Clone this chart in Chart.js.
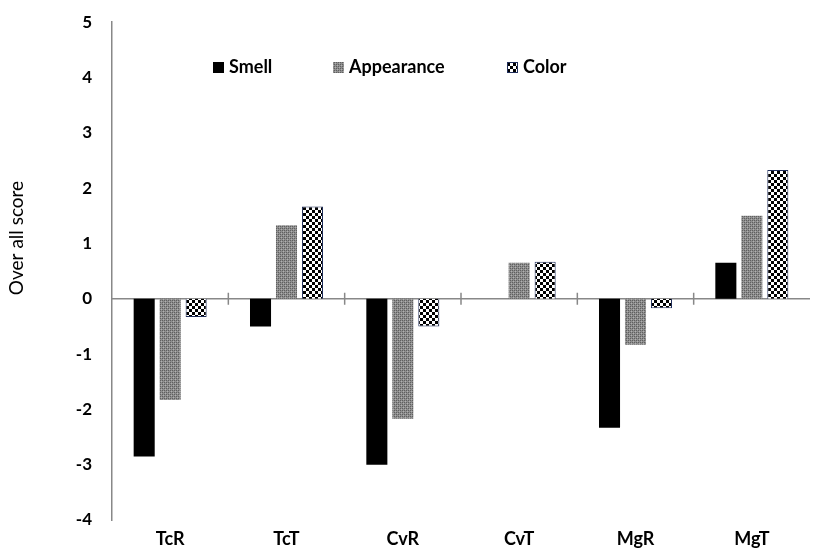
<!DOCTYPE html>
<html>
<head>
<meta charset="utf-8">
<script src="https://cdn.jsdelivr.net/npm/chart.js@4.4.0/dist/chart.umd.min.js"></script>
<style>
  html, body { margin: 0; padding: 0; background: #fff; }
  #wrap { width: 814px; height: 549px; }
</style>
</head>
<body>
<div id="wrap"><canvas id="chart"></canvas></div>
<script>
const categories = ['TcR', 'TcT', 'CvR', 'CvT', 'MgR', 'MgT'];
const smell = [-2.85, -0.5, -3.0, 0, -2.33, 0.65];
const appearance = [-1.83, 1.33, -2.17, 0.65, -0.83, 1.5];
const color = [-0.33, 1.67, -0.5, 0.67, -0.17, 2.33];
const yMin = -4;
const yMax = 5;

const FONT = 'Lato, "Liberation Sans", sans-serif';

// gray textured fill for Appearance
function grayPattern() {
  const c = document.createElement('canvas');
  c.width = 4; c.height = 4;
  const g = c.getContext('2d');
  g.fillStyle = '#8e8e8e';
  g.fillRect(0, 0, 4, 4);
  g.fillStyle = '#5f5f5f';
  g.fillRect(0, 0, 1, 1); g.fillRect(2, 2, 1, 1);
  g.fillRect(2, 0, 1, 1); g.fillRect(0, 2, 1, 1);
  g.fillStyle = '#b0b0b0';
  g.fillRect(1, 1, 1, 1); g.fillRect(3, 3, 1, 1);
  return g.createPattern(c, 'repeat');
}

// checkerboard fill for Color
function checkPattern() {
  const c = document.createElement('canvas');
  c.width = 6; c.height = 6;
  const g = c.getContext('2d');
  g.fillStyle = '#fff';
  g.fillRect(0, 0, 6, 6);
  g.fillStyle = '#000';
  g.fillRect(0, 0, 3, 3);
  g.fillRect(3, 3, 3, 3);
  return g.createPattern(c, 'repeat');
}

const zeroLine = {
  id: 'zeroLine',
  beforeDatasetsDraw(chart) {
    const { ctx, chartArea, scales } = chart;
    const y0 = scales.y.getPixelForValue(0);
    ctx.save();
    ctx.strokeStyle = '#888';
    ctx.lineWidth = 1.5;
    ctx.beginPath();
    ctx.moveTo(chartArea.left, y0);
    ctx.lineTo(chartArea.right, y0);
    // short tick marks between categories
    const step = scales.x.getPixelForValue(1) - scales.x.getPixelForValue(0);
    for (let i = 1; i < categories.length; i++) {
      const x = scales.x.getPixelForValue(i) - step / 2;
      ctx.moveTo(x, y0 - 6);
      ctx.lineTo(x, y0 + 6);
    }
    ctx.stroke();
    ctx.restore();
  }
};

const sideText = {
  id: 'sideText',
  afterDraw(chart) {
    const { ctx } = chart;
    ctx.save();
    ctx.fillStyle = '#000';
    ctx.font = '19px ' + FONT;
    ctx.textAlign = 'center';
    ctx.textBaseline = 'middle';
    ctx.translate(17, 238);
    ctx.rotate(-Math.PI / 2);
    ctx.fillText('Over all score', 0, 0);
    ctx.restore();

    // legend inside plot
    const xs = [213, 333, 507];
    const y = 67;
    ctx.save();
    ctx.font = 'bold 18px ' + FONT;
    ctx.textBaseline = 'middle';
    chart.data.datasets.forEach((ds, i) => {
      ctx.fillStyle = ds.backgroundColor;
      ctx.fillRect(xs[i], y - 5, 11, 11);
      if (ds.borderWidth) {
        ctx.strokeStyle = ds.borderColor;
        ctx.lineWidth = 1;
        ctx.strokeRect(xs[i] + 0.5, y - 4.5, 10, 10);
      }
      ctx.fillStyle = '#000';
      ctx.fillText(ds.label, xs[i] + 16, y);
    });
    ctx.restore();
  }
};

new Chart(document.getElementById('chart'), {
  type: 'bar',
  data: {
    labels: categories,
    datasets: [
      { label: 'Smell', data: smell, backgroundColor: '#000', borderWidth: 0 },
      { label: 'Appearance', data: appearance, backgroundColor: grayPattern(), borderWidth: 0 },
      { label: 'Color', data: color, backgroundColor: checkPattern(), borderColor: '#1f2d5a', borderWidth: 1 }
    ]
  },
  options: {
    responsive: true,
    maintainAspectRatio: false,
    animation: false,
    categoryPercentage: 0.67,
    barPercentage: 0.81,
    layout: { padding: { top: 6, right: 4, bottom: 0, left: 0 } },
    plugins: {
      legend: { display: false },
      tooltip: { enabled: false }
    },
    scales: {
      x: {
        grid: { display: false },
        border: { display: false },
        ticks: { color: '#000', font: { family: FONT, size: 18, weight: 'bold' }, padding: 0 },
        afterFit(scale) { scale.height = 29; }
      },
      y: {
        min: yMin,
        max: yMax,
        grid: { display: false },
        border: { display: true, color: '#888', width: 1.5 },
        ticks: { stepSize: 1, color: '#000', padding: 12, font: { family: FONT, size: 17, weight: 'bold' } },
        afterFit(scale) { scale.width = 112; }
      }
    }
  },
  plugins: [zeroLine, sideText]
});
</script>
</body>
</html>
